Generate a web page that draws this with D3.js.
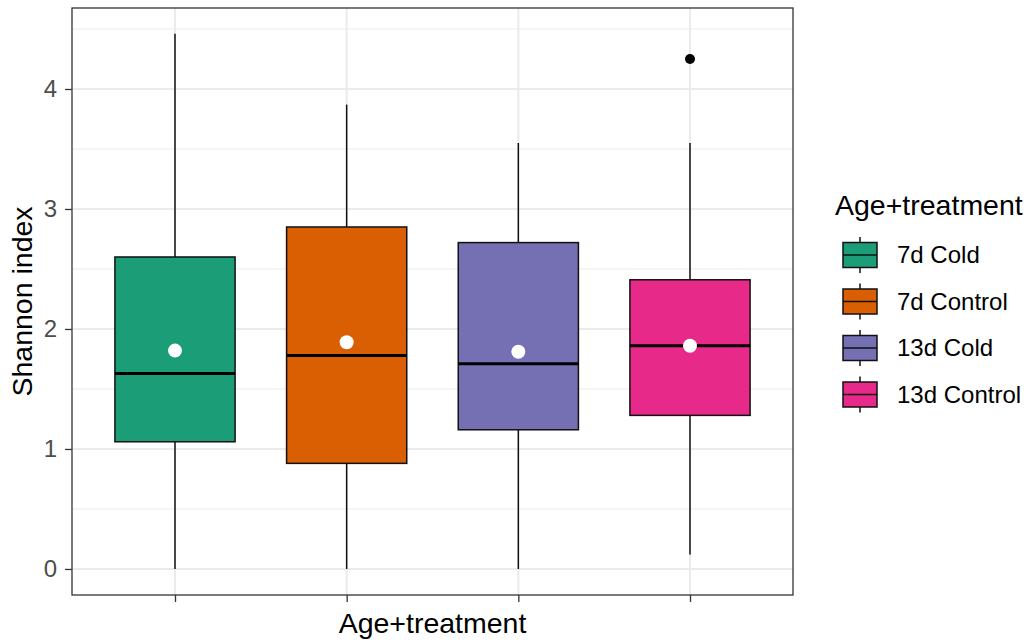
<!DOCTYPE html>
<html>
<head>
<meta charset="utf-8">
<script src="https://d3js.org/d3.v7.min.js"></script>
<style>
	body {margin: 0; background: #fff;}
	svg {font-family: "Liberation Sans", Arial, sans-serif;}
</style>
</head>
<body>
<div id="chart"></div>
<script>
// data
var groups = ["7d Cold", "7d Control", "13d Cold", "13d Control"];
var colors = ["#1B9E77", "#D95F02", "#7570B3", "#E7298A"];
var lowerWhisker = [0, 0, 0, 0.12];
var q1 = [1.06, 0.88, 1.16, 1.28];
var median = [1.63, 1.78, 1.71, 1.86];
var q3 = [2.6, 2.85, 2.72, 2.41];
var upperWhisker = [4.46, 3.87, 3.55, 3.55];
var means = [1.82, 1.89, 1.81, 1.86];
var outliers = [[], [], [], [4.25]];
var yTicks = [0, 1, 2, 3, 4];
var yMinor = [0.5, 1.5, 2.5, 3.5, 4.5];

var width = 1035, height = 644;
var panel = {left: 72, top: 8, right: 793, bottom: 595};

var svg = d3.select("#chart").append("svg")
	.attr("width", width)
	.attr("height", height);

// scales
var x = d3.scaleLinear().domain([0.4, 4.6]).range([panel.left, panel.right]);
var y = d3.scaleLinear().domain([-0.217, 4.675]).range([panel.bottom, panel.top]);

// grid lines
svg.selectAll(".minor").data(yMinor).enter().append("line")
	.attr("x1", panel.left).attr("x2", panel.right)
	.attr("y1", function(d) {return y(d)}).attr("y2", function(d) {return y(d)})
	.style("stroke", "#EBEBEB").style("stroke-width", 1);
svg.selectAll(".major").data(yTicks).enter().append("line")
	.attr("x1", panel.left).attr("x2", panel.right)
	.attr("y1", function(d) {return y(d)}).attr("y2", function(d) {return y(d)})
	.style("stroke", "#EBEBEB").style("stroke-width", 2);
svg.selectAll(".vgrid").data(groups).enter().append("line")
	.attr("x1", function(d, i) {return x(i + 1)}).attr("x2", function(d, i) {return x(i + 1)})
	.attr("y1", panel.top).attr("y2", panel.bottom)
	.style("stroke", "#EBEBEB").style("stroke-width", 2);

// boxes
var boxW = x(1.35) - x(1);
groups.forEach(function(g, i) {
	var cx = x(i + 1);
	// whiskers
	svg.append("line")
		.attr("x1", cx).attr("x2", cx)
		.attr("y1", y(q3[i])).attr("y2", y(upperWhisker[i]))
		.style("stroke", "#111").style("stroke-width", 1.5);
	svg.append("line")
		.attr("x1", cx).attr("x2", cx)
		.attr("y1", y(q1[i])).attr("y2", y(lowerWhisker[i]))
		.style("stroke", "#111").style("stroke-width", 1.5);
	svg.append("rect")
		.attr("x", cx - boxW).attr("y", y(q3[i]))
		.attr("width", boxW * 2).attr("height", y(q1[i]) - y(q3[i]))
		.style("fill", colors[i]).style("stroke", "#111").style("stroke-width", 1.5);
	svg.append("line")
		.attr("x1", cx - boxW).attr("x2", cx + boxW)
		.attr("y1", y(median[i])).attr("y2", y(median[i]))
		.style("stroke", "#000").style("stroke-width", 3);
	outliers[i].forEach(function(o) {
		svg.append("circle")
			.attr("cx", cx).attr("cy", y(o)).attr("r", 5)
			.style("fill", "#000");
	});
	svg.append("circle")
		.attr("cx", cx).attr("cy", y(means[i])).attr("r", 7)
		.style("fill", "#fff");
});

// panel border
svg.append("rect")
	.attr("x", panel.left).attr("y", panel.top)
	.attr("width", panel.right - panel.left).attr("height", panel.bottom - panel.top)
	.style("fill", "none").style("stroke", "#333").style("stroke-width", 1.3);

// axes
var yAxis = svg.append("g")
	.attr("transform", "translate(" + panel.left + ",0)")
	.call(d3.axisLeft(y).tickValues(yTicks).tickSize(7).tickPadding(8).tickFormat(d3.format("d")));
yAxis.select(".domain").remove();
yAxis.selectAll("line").style("stroke", "#333").style("stroke-width", 1.3);
yAxis.selectAll("text").style("font-size", "24px").style("fill", "#4D4D4D")
	.style("font-family", "Liberation Sans, Arial, sans-serif");

var xAxis = svg.append("g")
	.attr("transform", "translate(0," + panel.bottom + ")")
	.call(d3.axisBottom(x).tickValues([1, 2, 3, 4]).tickSize(7).tickFormat(""));
xAxis.select(".domain").remove();
xAxis.selectAll("line").style("stroke", "#333").style("stroke-width", 1.3);

// axis titles
svg.append("text")
	.attr("x", (panel.left + panel.right) / 2).attr("y", 633)
	.attr("text-anchor", "middle")
	.style("font-size", "28.5px").style("fill", "#000")
	.text("Age+treatment");
svg.append("text")
	.attr("transform", "translate(32," + (panel.top + panel.bottom) / 2 + ") rotate(-90)")
	.attr("text-anchor", "middle")
	.style("font-size", "28.5px").style("fill", "#000")
	.text("Shannon index");

// legend
var legend = svg.append("g").attr("transform", "translate(835,0)");
legend.append("text")
	.attr("x", 0).attr("y", 215)
	.style("font-size", "28.5px").style("fill", "#000")
	.text("Age+treatment");
groups.forEach(function(g, i) {
	var cy = 255 + i * 46.5;
	var k = legend.append("g").attr("transform", "translate(25," + cy + ")");
	k.append("line").attr("x1", 0).attr("x2", 0).attr("y1", -18).attr("y2", 18)
		.style("stroke", "#111").style("stroke-width", 1.5);
	k.append("rect").attr("x", -17).attr("y", -12.5).attr("width", 34).attr("height", 25)
		.style("fill", colors[i]).style("stroke", "#111").style("stroke-width", 1.5);
	k.append("line").attr("x1", -17).attr("x2", 17).attr("y1", 0).attr("y2", 0)
		.style("stroke", "#111").style("stroke-width", 1.5);
	legend.append("text")
		.attr("x", 62).attr("y", cy + 8)
		.style("font-size", "24px").style("fill", "#000")
		.text(g);
});
</script>
</body>
</html>
